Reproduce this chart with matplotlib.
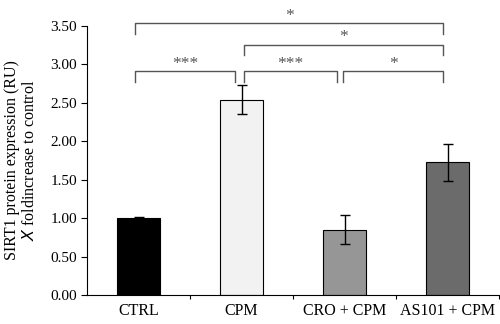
import matplotlib.pyplot as plt
import numpy as np

plt.rcParams['font.family'] = ['Liberation Serif', 'DejaVu Serif']

categories = ["CTRL", "CPM", "CRO + CPM", "AS101 + CPM"]
values = [1.00, 2.54, 0.85, 1.73]
errors = [0.01, 0.19, 0.19, 0.24]
colors = ["#000000", "#f2f2f2", "#969696", "#6b6b6b"]

# significance brackets: (left x, right x, line y, leg bottom y, label)
brackets = [
    (-0.03, 2.96, 3.535, 3.40, "*"),
    (1.02, 2.96, 3.26, 3.12, "*"),
    (-0.03, 0.94, 2.91, 2.775, "***"),
    (1.02, 1.93, 2.91, 2.775, "***"),
    (1.99, 2.96, 2.91, 2.775, "*"),
]

fig = plt.figure(figsize=(5, 3.24), dpi=100)
ax = fig.add_axes([0.174, 0.0895, 0.824, 0.83])

x = np.arange(len(categories))
ax.bar(x, values, width=0.41, color=colors, edgecolor="black", linewidth=0.8, zorder=2)
ax.errorbar(x, values, yerr=errors, fmt="none", ecolor="black", elinewidth=1.0,
            capsize=3.6, capthick=1.0, zorder=3)

ax.set_xlim(-0.5, 3.5)
ax.set_ylim(0, 3.5)
ax.set_yticks(np.arange(0, 3.51, 0.5))
ax.set_yticklabels([f"{v:.2f}" for v in np.arange(0, 3.51, 0.5)], fontsize=11)

ax.set_xticks([0.5, 1.5, 2.5, 3.5])
ax.set_xticklabels([])
ax.set_xticks(x, minor=True)
ax.set_xticklabels(categories, minor=True, fontsize=11.5)
ax.tick_params(axis="x", which="minor", length=0, pad=6)
ax.tick_params(axis="x", which="major", length=3, width=0.8, direction="out")
ax.tick_params(axis="y", length=4, width=0.8, direction="out", pad=3)

for s in ["top", "right"]:
    ax.spines[s].set_visible(False)
for s in ["left", "bottom"]:
    ax.spines[s].set_linewidth(0.8)

ax.set_ylabel("SIRT1 protein expression (RU)\n$\\it{X}$ foldincrease to control", fontsize=11.5,
              linespacing=1.15, labelpad=9)

bc = "#555555"
for x0, x1, y, yb, lab in brackets:
    ax.plot([x0, x0, x1, x1], [yb, y, y, yb], color=bc, linewidth=1.0, clip_on=False, zorder=4)
    ax.text((x0 + x1) / 2, y - 0.005, lab, ha="center", va="bottom", fontsize=12.5,
            color=bc, clip_on=False)

fig.savefig("out.png", dpi=100)
